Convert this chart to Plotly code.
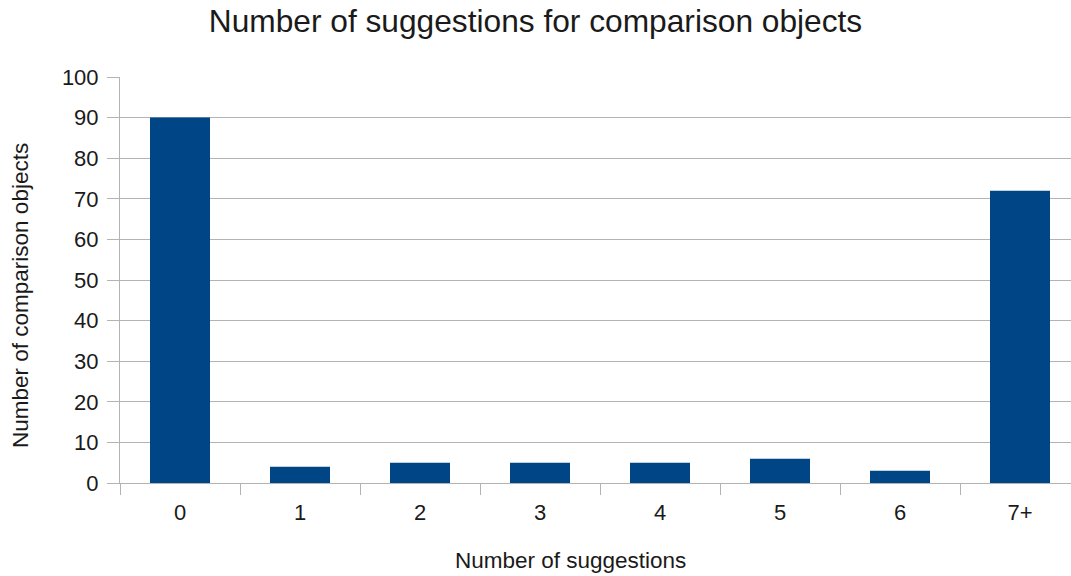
import plotly.graph_objects as go

# Number of comparison objects per suggestion count
categories = ["0", "1", "2", "3", "4", "5", "6", "7+"]
counts = [90, 4, 5, 5, 5, 6, 3, 72]

FONT = "Liberation Sans, Arial, sans-serif"
GRID = "#b3b3b3"
TEXT = "#1a1a1a"

fig = go.Figure(
    go.Bar(
        x=categories,
        y=counts,
        marker=dict(color="#004586", line=dict(width=0)),
        hoverinfo="x+y",
    )
)

fig.update_layout(
    width=1071,
    height=576,
    margin=dict(l=120, r=0, t=77, b=93),
    paper_bgcolor="white",
    plot_bgcolor="white",
    bargap=0.5,
    showlegend=False,
    font=dict(family=FONT, color=TEXT, size=22),
    title=dict(
        text="Number of suggestions for comparison objects",
        font=dict(family=FONT, size=31.7, color=TEXT),
        x=0.5,
        xanchor="center",
        xref="container",
        y=0.963,
        yanchor="middle",
        yref="container",
    ),
)

fig.update_xaxes(
    type="category",
    range=[-0.5, 7.425],
    tickson="boundaries",
    ticks="outside",
    ticklen=11,
    tickcolor=GRID,
    tickwidth=1,
    showline=True,
    linecolor=GRID,
    linewidth=1,
    showgrid=False,
    ticklabelstandoff=10,
    tickfont=dict(family=FONT, size=22, color=TEXT),
)

fig.update_yaxes(
    range=[0, 100],
    dtick=10,
    ticks="outside",
    ticklen=12,
    tickcolor=GRID,
    tickwidth=1,
    showline=True,
    linecolor=GRID,
    linewidth=1,
    showgrid=True,
    gridcolor=GRID,
    gridwidth=1,
    zeroline=False,
    ticklabelstandoff=4,
    tickfont=dict(family=FONT, size=22, color=TEXT),
)

# Axis titles
fig.add_annotation(
    text="Number of suggestions",
    xref="paper", yref="paper",
    x=0.474, y=-0.192,
    xanchor="center", yanchor="middle",
    showarrow=False,
    font=dict(family=FONT, size=22.5, color=TEXT),
)
fig.add_annotation(
    text="Number of comparison objects",
    xref="paper", yref="paper",
    x=-0.1052, y=0.463,
    xanchor="center", yanchor="middle",
    textangle=-90,
    showarrow=False,
    font=dict(family=FONT, size=22.5, color=TEXT),
)

fig.write_html("out.html")
